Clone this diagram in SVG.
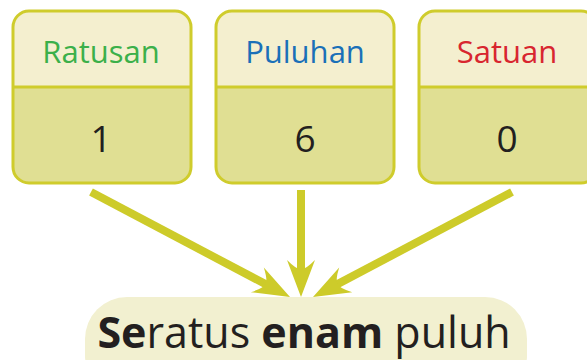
<svg xmlns="http://www.w3.org/2000/svg" width="587" height="360" viewBox="0 0 587 360">
  <style>
    .head { fill: #f4efcf; }
    .body { fill: #e0df93; }
    .frame { fill: none; stroke: #cfcc2c; stroke-width: 3; }
    .divider { stroke: #cfcc2c; stroke-width: 3; }
    .label { font-family: "Open Sans", "Noto Sans", sans-serif; font-size: 31px; text-anchor: middle; }
    .digit { font-family: "Open Sans", "Noto Sans", sans-serif; font-size: 37px; text-anchor: middle; fill: #231f20; }
    .arrow { stroke: #cdcb2a; stroke-width: 8; fill: none; marker-end: url(#tip); }
    .result { font-family: "Open Sans", "Noto Sans", sans-serif; font-size: 43px; fill: #231f20; text-anchor: middle; }
  </style>
  <defs>
    <marker id="tip" markerUnits="userSpaceOnUse" orient="auto" markerWidth="60" markerHeight="40" refX="0" refY="0" viewBox="-15 -20 45 40" overflow="visible">
      <path d="M25,0 L-12,-14 Q-2,-4 -3,0 Q-2,4 -12,14 Z" fill="#cdcb2a"/>
    </marker>
    <clipPath id="c1"><rect x="13" y="11" width="178" height="172" rx="16"/></clipPath>
    <clipPath id="c2"><rect x="216" y="11" width="178" height="172" rx="16"/></clipPath>
    <clipPath id="c3"><rect x="419" y="11" width="178" height="172" rx="16"/></clipPath>
  </defs>

  <!-- place-value columns -->
  <g id="ratusan">
    <g clip-path="url(#c1)">
      <rect class="head" x="13" y="11" width="178" height="76"/>
      <rect class="body" x="13" y="87" width="178" height="96"/>
    </g>
    <line class="divider" x1="13" y1="87" x2="191" y2="87"/>
    <rect class="frame" x="13" y="11" width="178" height="172" rx="16"/>
    <text class="label" x="101" y="63" fill="#3bb04a">Ratusan</text>
    <text class="digit" x="101" y="152">1</text>
  </g>

  <g id="puluhan">
    <g clip-path="url(#c2)">
      <rect class="head" x="216" y="11" width="178" height="76"/>
      <rect class="body" x="216" y="87" width="178" height="96"/>
    </g>
    <line class="divider" x1="216" y1="87" x2="394" y2="87"/>
    <rect class="frame" x="216" y="11" width="178" height="172" rx="16"/>
    <text class="label" x="305" y="63" fill="#1a70b8">Puluhan</text>
    <text class="digit" x="305" y="152">6</text>
  </g>

  <g id="satuan">
    <g clip-path="url(#c3)">
      <rect class="head" x="419" y="11" width="178" height="76"/>
      <rect class="body" x="419" y="87" width="178" height="96"/>
    </g>
    <line class="divider" x1="419" y1="87" x2="597" y2="87"/>
    <rect class="frame" x="419" y="11" width="178" height="172" rx="16"/>
    <text class="label" x="507" y="63" fill="#d8262f">Satuan</text>
    <text class="digit" x="507" y="152">0</text>
  </g>

  <!-- connectors -->
  <g id="connectors">
    <line class="arrow" x1="91" y1="192" x2="267.9" y2="285.4"/>
    <line class="arrow" x1="301" y1="190" x2="301" y2="272"/>
    <line class="arrow" x1="512" y1="192" x2="335.1" y2="285.4"/>
  </g>

  <!-- resulting number name -->
  <g id="result">
    <rect x="85" y="297" width="442" height="100" rx="42" fill="#f2f0d0"/>
    <text class="result" x="304" y="348"><tspan font-weight="bold">Se</tspan>ratus <tspan font-weight="bold">enam</tspan> puluh</text>
  </g>
</svg>
